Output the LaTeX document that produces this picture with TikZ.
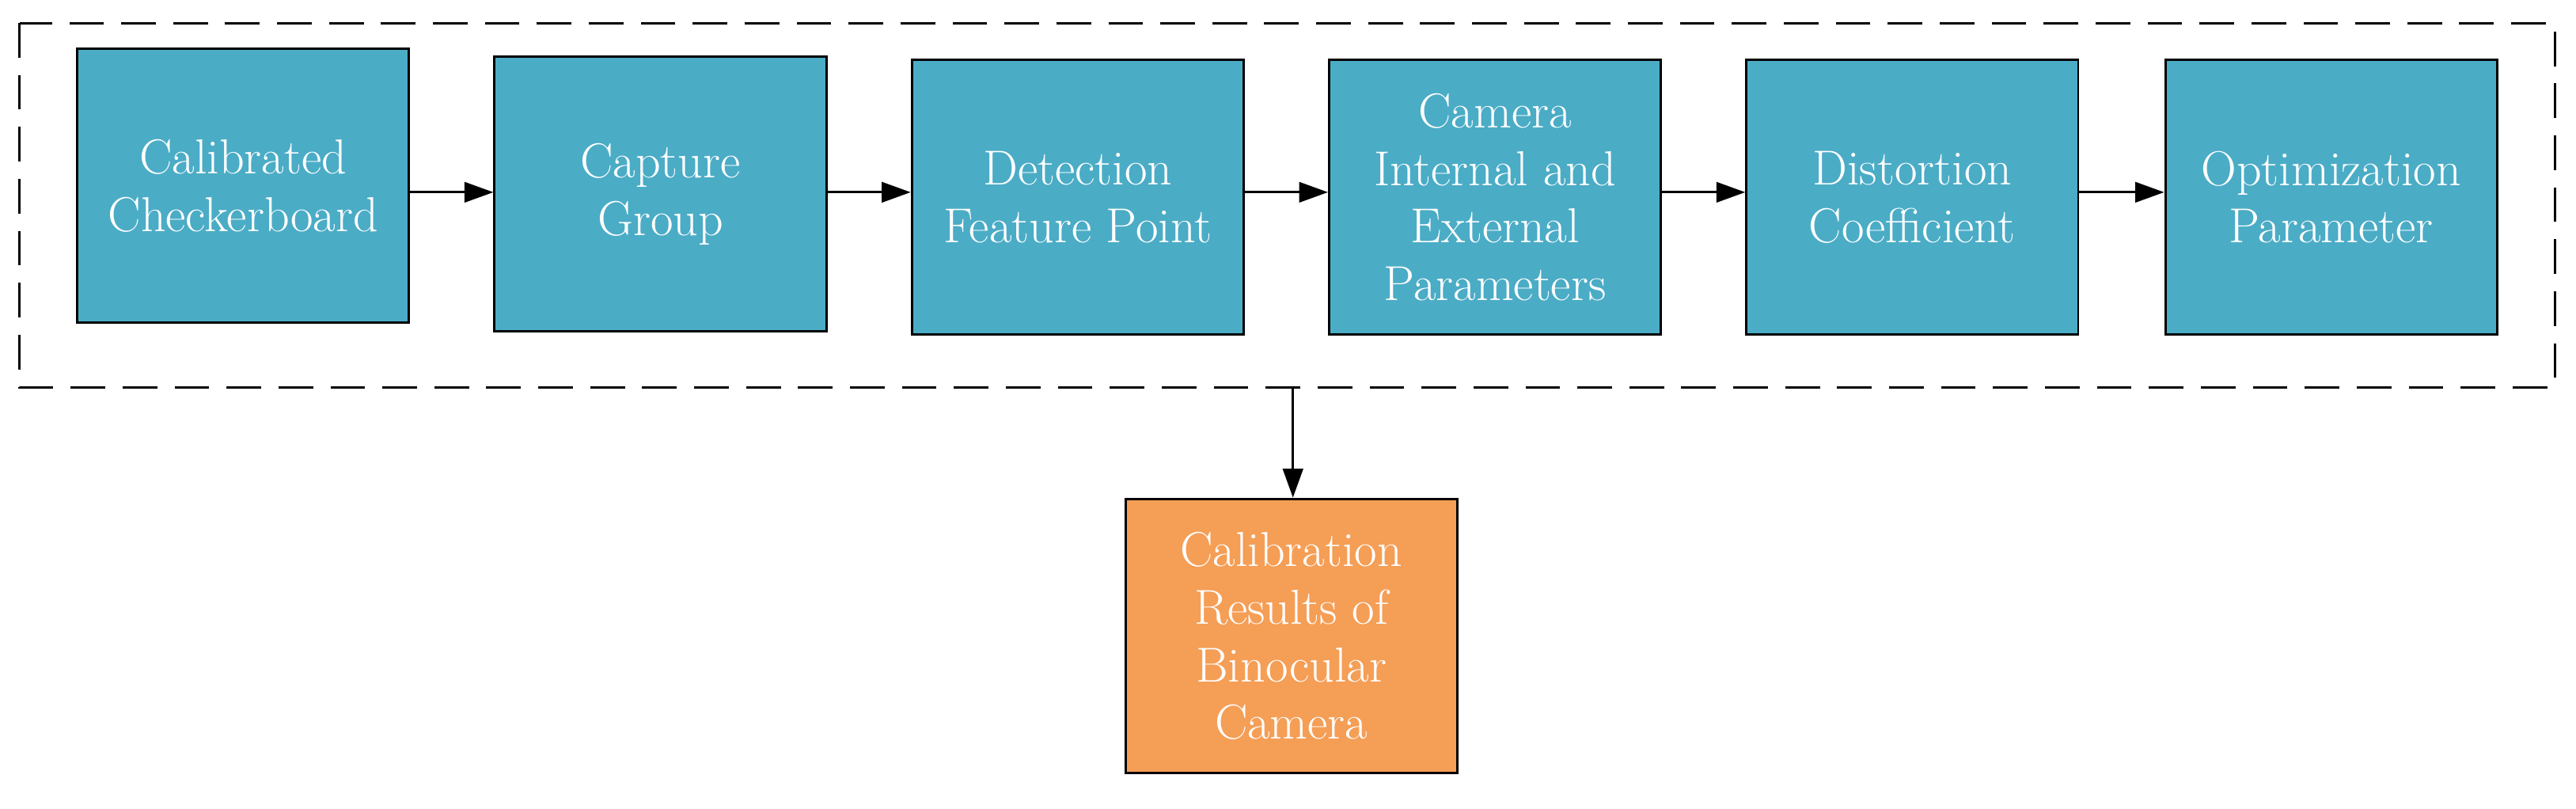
\documentclass[tikz,border=0pt]{standalone}
\usepackage{tikz}
\usetikzlibrary{arrows.meta, positioning}
\definecolor{stepblue}{RGB}{75,172,198}
\definecolor{resorange}{RGB}{245,158,86}
\begin{document}
\begin{tikzpicture}[x=0.02cm,y=-0.02cm,>={Triangle[length=10pt,width=7pt]},thick,
  stage/.style={draw=black,fill=stepblue,text=white,minimum width=4.04cm,minimum height=3.34cm,
    align=center,inner sep=2pt,font=\fontsize{17}{20}\selectfont},
  result/.style={stage,fill=resorange}]
  \useasboundingbox (0,0) rectangle (1568,492);
  \draw[dash pattern=on 12pt off 6pt] (12,14) rectangle (1555,236);
  \coordinate (frame) at (787,236);
  \coordinate (row) at (0,117);

  \node[stage] (board)   at (148,113) {Calibrated\\Checkerboard};
  \node[stage] (capture) at (402,118) {Capture\\Group};
  \node[stage] (detect)  at (656,120) {Detection\\Feature Point};
  \node[stage] (param)   at (910,120) {Camera\\Internal and\\External\\Parameters};
  \node[stage] (distort) at (1164,120) {Distortion\\Coefficient};
  \node[stage] (optim)   at (1419,120) {Optimization\\Parameter};
  \node[result] (res)    at (786,387) {Calibration\\Results of\\Binocular\\Camera};

  \draw[->] (board.east |- row) -- (capture.west |- row);
  \draw[->] (capture.east |- row) -- (detect.west |- row);
  \draw[->] (detect.east |- row) -- (param.west |- row);
  \draw[->] (param.east |- row) -- (distort.west |- row);
  \draw[->] (distort.east |- row) -- (optim.west |- row);
  \draw[->] (frame) -- (res.north -| frame);
\end{tikzpicture}
\end{document}
